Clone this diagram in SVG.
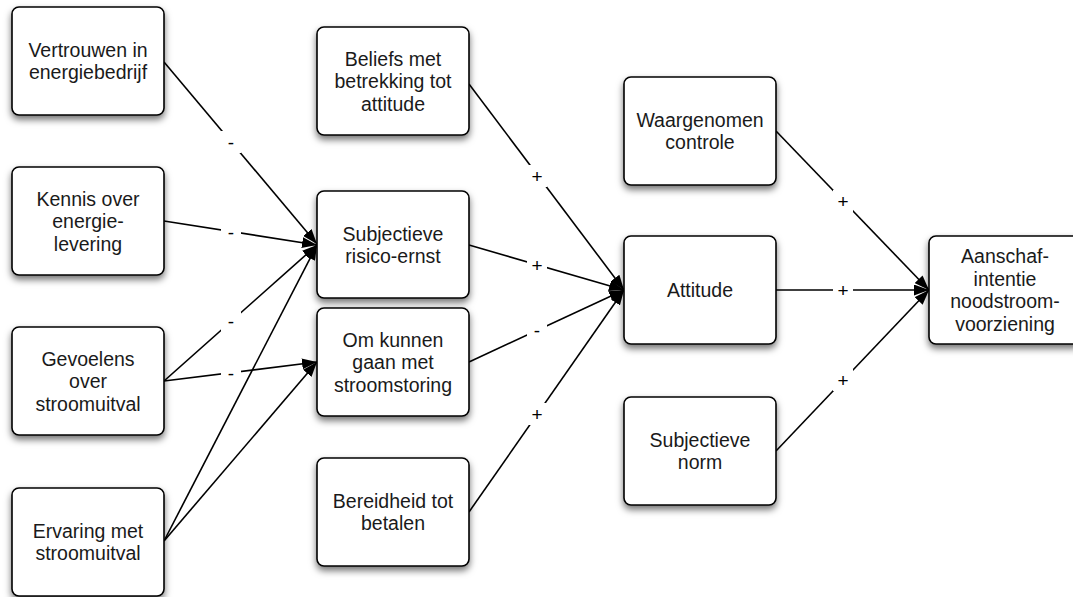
<svg xmlns="http://www.w3.org/2000/svg" width="1073" height="597" viewBox="0 0 1073 597">
<style>
.box{fill:#fff;stroke:#000;stroke-width:1.6;filter:url(#sh)}
.t{font-family:"Liberation Sans",Arial,sans-serif;font-size:19.5px;fill:#1a1a1a;text-anchor:middle}
.e{stroke:#000;stroke-width:1.6;fill:none;marker-end:url(#arr)}
.lb{fill:#fff}
.lt{font-family:"Liberation Sans",Arial,sans-serif;font-size:19px;fill:#000;text-anchor:middle}
</style>
<defs>
<filter id="sh" x="-20%" y="-20%" width="140%" height="150%">
<feDropShadow dx="0" dy="4" stdDeviation="3.5" flood-color="#000" flood-opacity="0.55"/>
</filter>
<marker id="arr" viewBox="0 0 15 11" refX="15" refY="5.5" markerWidth="15" markerHeight="11" markerUnits="userSpaceOnUse" orient="auto">
<path d="M0,0 L15,5.5 L0,11 Z" fill="#000"/>
</marker>
</defs>
<rect width="1073" height="597" fill="#fff"/>
<g id="connectors">
<line class="e" x1="164" y1="62" x2="317" y2="244"/>
<line class="e" x1="164" y1="221" x2="317" y2="245"/>
<line class="e" x1="164" y1="381" x2="317" y2="245"/>
<line class="e" x1="164" y1="381" x2="317" y2="362"/>
<line class="e" x1="164" y1="541" x2="317" y2="245"/>
<line class="e" x1="164" y1="541" x2="317" y2="362"/>
<line class="e" x1="469" y1="84" x2="624" y2="290"/>
<line class="e" x1="469" y1="245" x2="624" y2="290"/>
<line class="e" x1="469" y1="362" x2="624" y2="290"/>
<line class="e" x1="469" y1="512" x2="624" y2="290"/>
<line class="e" x1="776" y1="131" x2="929" y2="290"/>
<line class="e" x1="776" y1="290" x2="929" y2="290"/>
<line class="e" x1="776" y1="451" x2="929" y2="290"/>
<rect class="lb" x="221" y="131" width="20" height="22"/><text class="lt" x="231" y="148.5">-</text>
<rect class="lb" x="221" y="221" width="20" height="22"/><text class="lt" x="231" y="238.5">-</text>
<rect class="lb" x="221" y="310" width="20" height="22"/><text class="lt" x="231" y="327.5">-</text>
<rect class="lb" x="221" y="362" width="20" height="22"/><text class="lt" x="231" y="379.5">-</text>
<rect class="lb" x="527" y="165" width="20" height="22"/><text class="lt" x="537" y="182.5">+</text>
<rect class="lb" x="527" y="254" width="20" height="22"/><text class="lt" x="537" y="271.5">+</text>
<rect class="lb" x="527" y="319" width="20" height="22"/><text class="lt" x="537" y="336.5">-</text>
<rect class="lb" x="527" y="403" width="20" height="22"/><text class="lt" x="537" y="420.5">+</text>
<rect class="lb" x="833" y="190" width="20" height="22"/><text class="lt" x="843" y="207.5">+</text>
<rect class="lb" x="833" y="279" width="20" height="22"/><text class="lt" x="843" y="296.5">+</text>
<rect class="lb" x="833" y="369" width="20" height="22"/><text class="lt" x="843" y="386.5">+</text>
</g>
<g id="n1"><rect class="box" x="12" y="7" width="152" height="108" rx="7"/><text class="t" x="88" y="56.75">Vertrouwen in</text><text class="t" x="88" y="79.25">energiebedrijf</text></g>
<g id="n2"><rect class="box" x="12" y="167" width="152" height="108" rx="7"/><text class="t" x="88" y="205.5">Kennis over</text><text class="t" x="88" y="228">energie-</text><text class="t" x="88" y="250.5">levering</text></g>
<g id="n3"><rect class="box" x="12" y="327" width="152" height="108" rx="7"/><text class="t" x="88" y="365.5">Gevoelens</text><text class="t" x="88" y="388">over</text><text class="t" x="88" y="410.5">stroomuitval</text></g>
<g id="n4"><rect class="box" x="12" y="488" width="152" height="108" rx="7"/><text class="t" x="88" y="537.75">Ervaring met</text><text class="t" x="88" y="560.25">stroomuitval</text></g>
<g id="n5"><rect class="box" x="317" y="27" width="152" height="108" rx="7"/><text class="t" x="393" y="65.5">Beliefs met</text><text class="t" x="393" y="88">betrekking tot</text><text class="t" x="393" y="110.5">attitude</text></g>
<g id="n6"><rect class="box" x="317" y="191" width="152" height="107" rx="7"/><text class="t" x="393" y="240.5">Subjectieve</text><text class="t" x="393" y="263">risico-ernst</text></g>
<g id="n7"><rect class="box" x="317" y="308" width="152" height="108" rx="7"/><text class="t" x="393" y="346.5">Om kunnen</text><text class="t" x="393" y="369">gaan met</text><text class="t" x="393" y="391.5">stroomstoring</text></g>
<g id="n8"><rect class="box" x="317" y="458" width="152" height="108" rx="7"/><text class="t" x="393" y="507.75">Bereidheid tot</text><text class="t" x="393" y="530.25">betalen</text></g>
<g id="n9"><rect class="box" x="624" y="77" width="152" height="108" rx="7"/><text class="t" x="700" y="126.75">Waargenomen</text><text class="t" x="700" y="149.25">controle</text></g>
<g id="n10"><rect class="box" x="624" y="236" width="152" height="108" rx="7"/><text class="t" x="700" y="297">Attitude</text></g>
<g id="n11"><rect class="box" x="624" y="397" width="152" height="108" rx="7"/><text class="t" x="700" y="446.75">Subjectieve</text><text class="t" x="700" y="469.25">norm</text></g>
<g id="n12"><rect class="box" x="929" y="236" width="152" height="108" rx="7"/><text class="t" x="1005" y="263.25">Aanschaf-</text><text class="t" x="1005" y="285.75">intentie</text><text class="t" x="1005" y="308.25">noodstroom-</text><text class="t" x="1005" y="330.75">voorziening</text></g>
</svg>
